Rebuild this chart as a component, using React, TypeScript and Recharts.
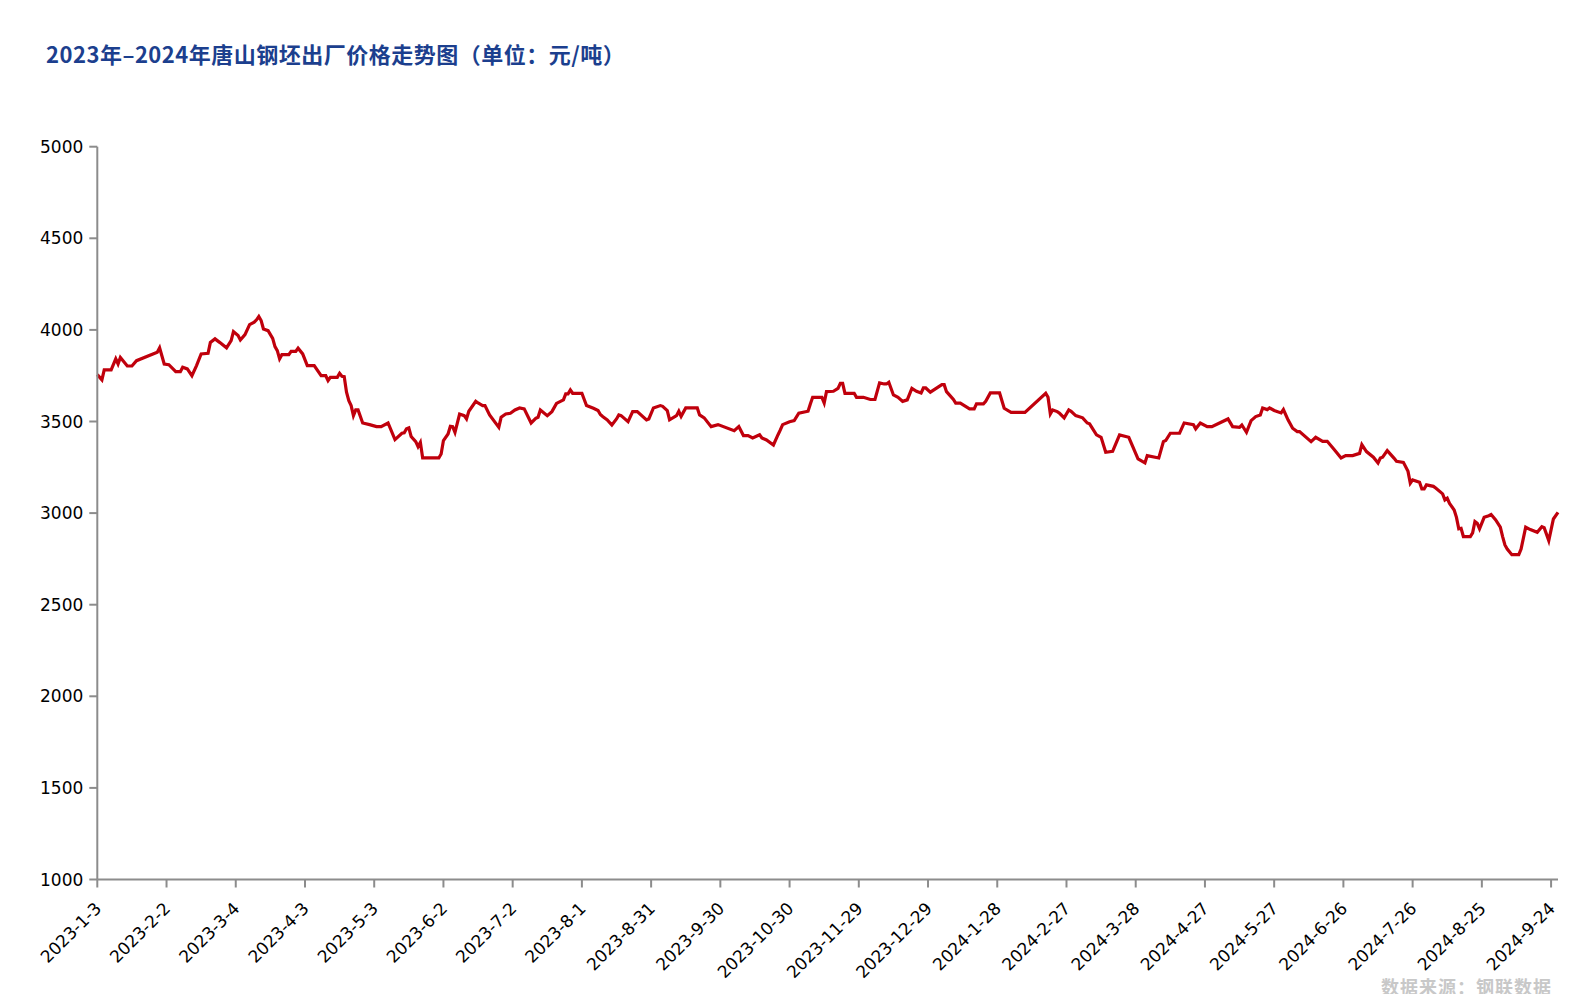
import { CartesianGrid, Line, LineChart, XAxis, YAxis } from "recharts";

// days counted from 2023-1-3
const dayOffsets = [
  0, 2, 3, 6, 8, 9, 10, 13, 15, 17, 26, 27, 29, 31, 34, 36, 37, 39, 41, 43,
  45, 48, 49, 51, 53, 56, 58, 59, 61, 62, 64, 66, 68, 69, 70, 71, 72, 74, 76, 77,
  78, 79, 80, 83, 84, 86, 87, 89, 91, 94, 97, 99, 100, 101, 104, 105, 106, 107, 108, 109,
  110, 111, 112, 113, 115, 118, 121, 123, 126, 129, 132, 133, 134, 135, 136, 138, 139, 140, 141, 148,
  149, 150, 152, 153, 154, 155, 157, 159, 160, 161, 164, 165, 167, 168, 170, 174, 175, 177, 179, 181,
  183, 185, 188, 190, 191, 192, 195, 197, 199, 202, 203, 204, 205, 206, 210, 212, 215, 217, 218, 219,
  221, 223, 225, 226, 227, 230, 232, 234, 238, 239, 241, 244, 245, 247, 248, 251, 252, 253, 255, 260,
  261, 263, 266, 269, 276, 278, 280, 282, 284, 287, 288, 290, 293, 295, 296, 297, 300, 302, 304, 308,
  309, 310, 314, 315, 316, 319, 321, 322, 323, 324, 328, 329, 332, 335, 337, 339, 341, 342, 343, 345,
  347, 349, 351, 353, 355, 357, 358, 359, 361, 366, 367, 368, 371, 372, 374, 378, 380, 381, 384, 385,
  387, 391, 393, 396, 402, 411, 412, 413, 414, 416, 417, 419, 421, 422, 424, 427, 429, 430, 433, 435,
  437, 440, 443, 447, 451, 454, 455, 460, 462, 463, 465, 469, 471, 475, 476, 478, 481, 483, 490, 492,
  495, 496, 498, 500, 502, 504, 505, 507, 508, 510, 513, 514, 516, 518, 520, 521, 526, 528, 531, 533,
  536, 539, 541, 544, 547, 548, 550, 553, 555, 556, 557, 559, 562, 563, 566, 568, 569, 570, 573, 574,
  575, 576, 579, 580, 583, 584, 585, 586, 588, 589, 590, 591, 592, 595, 596, 597, 598, 599, 601, 603,
  604, 606, 608, 609, 610, 611, 613, 616, 617, 619, 621, 624, 626, 627, 629, 631, 633,
];

const prices = [
  3756, 3727, 3782, 3782, 3842, 3814, 3850, 3803, 3803, 3832, 3878, 3902, 3814, 3810, 3772, 3772, 3796, 3787, 3750, 3805,
  3869, 3872, 3932, 3951, 3932, 3902, 3942, 3991, 3969, 3945, 3974, 4029, 4042, 4055, 4073, 4051, 4005, 3996, 3954, 3909,
  3887, 3842, 3865, 3865, 3883, 3883, 3900, 3869, 3805, 3805, 3750, 3750, 3723, 3741, 3741, 3763, 3747, 3745, 3660, 3614,
  3587, 3532, 3563, 3563, 3492, 3483, 3472, 3472, 3492, 3401, 3436, 3438, 3460, 3465, 3418, 3390, 3363, 3386, 3301, 3301,
  3323, 3396, 3432, 3474, 3472, 3441, 3541, 3532, 3514, 3556, 3610, 3601, 3587, 3587, 3536, 3468, 3523, 3541, 3545, 3563,
  3574, 3569, 3492, 3517, 3523, 3563, 3532, 3554, 3599, 3618, 3651, 3651, 3672, 3654, 3654, 3587, 3572, 3560, 3538, 3527,
  3509, 3481, 3514, 3536, 3532, 3499, 3554, 3554, 3509, 3514, 3574, 3587, 3583, 3560, 3509, 3532, 3556, 3528, 3574, 3574,
  3536, 3520, 3472, 3483, 3450, 3472, 3423, 3423, 3410, 3428, 3410, 3399, 3372, 3428, 3454, 3483, 3499, 3505, 3545, 3556,
  3596, 3632, 3632, 3601, 3663, 3665, 3681, 3708, 3708, 3654, 3654, 3632, 3632, 3620, 3620, 3711, 3705, 3705, 3714, 3645,
  3632, 3610, 3618, 3681, 3665, 3656, 3683, 3683, 3660, 3701, 3701, 3663, 3620, 3600, 3600, 3569, 3569, 3596, 3596, 3610,
  3656, 3656, 3572, 3550, 3550, 3654, 3632, 3541, 3563, 3554, 3545, 3520, 3563, 3556, 3532, 3520, 3492, 3487, 3427, 3414,
  3332, 3337, 3427, 3414, 3296, 3274, 3314, 3301, 3390, 3396, 3436, 3436, 3492, 3483, 3460, 3492, 3472, 3472, 3514, 3472,
  3468, 3481, 3441, 3505, 3527, 3536, 3574, 3565, 3574, 3560, 3547, 3565, 3509, 3463, 3445, 3445, 3390, 3414, 3392, 3392,
  3347, 3301, 3314, 3314, 3326, 3374, 3336, 3305, 3274, 3301, 3305, 3341, 3299, 3283, 3277, 3228, 3163, 3181, 3168, 3132,
  3132, 3154, 3146, 3137, 3105, 3072, 3081, 3053, 3017, 2977, 2914, 2917, 2872, 2872, 2892, 2954, 2944, 2914, 2977, 2986,
  2992, 2963, 2923, 2872, 2826, 2804, 2773, 2773, 2804, 2923, 2910, 2895, 2926, 2920, 2850, 2968, 3004,
];

const xTicks = [
  0, 30, 60, 90, 120, 150, 180, 210, 240, 270, 300, 330, 360, 390, 420, 450, 480,
  510, 540, 570, 600, 630,
];
const yTicks = [1000, 1500, 2000, 2500, 3000, 3500, 4000, 4500, 5000];

const data = dayOffsets.map((day, i) => ({ day, price: prices[i] }));

const startDate = Date.UTC(2023, 0, 3);
const formatDay = (d: number) => {
  const dt = new Date(startDate + d * 86400000);
  return `${dt.getUTCFullYear()}-${dt.getUTCMonth() + 1}-${dt.getUTCDate()}`;
};

const axisFont = "'DejaVu Sans', Verdana, sans-serif";

const DateTick = ({ x, y, payload }: any) => (
  <g transform={`translate(${x + 5},${y + 20})`}>
    <text
      textAnchor="end"
      transform="rotate(-45)"
      fontSize={17}
      fontFamily={axisFont}
      fill="#000"
    >
      {formatDay(payload.value)}
    </text>
  </g>
);

const App = () => {
  return (
    <div style={{ position: "relative", width: 1573, height: 986, background: "#fff" }}>
      <div
        style={{
          position: "absolute",
          left: 38,
          top: 32,
          fontFamily: "'Noto Sans CJK SC', sans-serif",
          fontWeight: 700,
          fontSize: 22,
          letterSpacing: 0.5,
          lineHeight: "26px",
          color: "#1c3f8e",
          whiteSpace: "nowrap",
        }}
      >
        2023年–2024年唐山钢坯出厂价格走势图（单位：元/吨）
      </div>
      <LineChart
        width={1573}
        height={986}
        data={data}
        margin={{ top: 138.7, right: 23, bottom: 14.5, left: 0 }}
      >
        <CartesianGrid stroke="none" />
        <XAxis
          dataKey="day"
          type="number"
          domain={[0, 633]}
          ticks={xTicks}
          interval={0}
          height={100}
          stroke="#8c8c8c"
          strokeWidth={2}
          tickSize={8}
          tick={<DateTick />}
        />
        <YAxis
          type="number"
          domain={[1000, 5000]}
          ticks={yTicks}
          interval={0}
          width={89.3}
          stroke="#8c8c8c"
          strokeWidth={2}
          tickSize={8}
          tickMargin={6}
          tick={{ fill: "#000", fontSize: 17, fontFamily: axisFont }}
        />
        <Line
          type="linear"
          dataKey="price"
          stroke="#c0000c"
          strokeWidth={3.2}
          dot={false}
          isAnimationActive={false}
        />
      </LineChart>
      <div
        style={{
          position: "absolute",
          right: 29,
          top: 968,
          fontFamily: "'Noto Sans CJK SC', sans-serif",
          fontWeight: 700,
          fontSize: 18,
          letterSpacing: 1,
          lineHeight: "20px",
          color: "#c8c8c8",
          whiteSpace: "nowrap",
        }}
      >
        数据来源：钢联数据
      </div>
    </div>
  );
};

export default App;
